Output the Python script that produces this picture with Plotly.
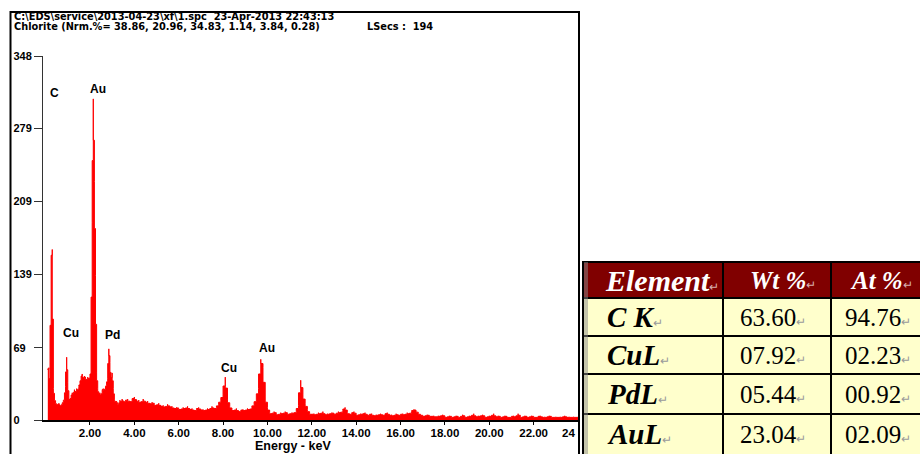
import plotly.graph_objects as go

W, H = 920, 454

# ---------------- data ----------------
# channel grid (keV): fine 0.05 keV steps up to 3.5 keV, then 0.1 keV steps
E_FINE_START, E_FINE_STEP, N_FINE = 0.10, 0.05, 69
E_COARSE_START, E_COARSE_STEP, N_COARSE = 3.60, 0.10, 205

COUNTS_FINE = [
    48, 50, 29, 152, 163, 30, 21, 16, 15, 14,
    16, 13, 14, 15, 18, 20, 32, 60, 36, 20,
    19, 22, 26, 24, 29, 25, 30, 27, 32, 35,
    40, 44, 38, 42, 40, 37, 41, 38, 42, 46,
    189, 307, 228, 138, 45, 30, 24, 26, 22, 28,
    30, 27, 32, 33, 40, 68, 55, 36, 45, 30,
    20, 16, 18, 15, 14, 19, 16, 20, 17,
]
COUNTS_COARSE = [
    18, 20, 16, 19, 22,
    17, 19, 15, 20, 16, 18, 14, 17, 15, 13,
    16, 12, 14, 11, 15, 12, 13, 10, 12, 11,
    9, 12, 10, 13, 9, 11, 8, 10, 12, 9,
    10, 8, 11, 9, 13, 10, 12, 15, 19, 24,
    41, 20, 13, 10, 8, 11, 7, 9, 10, 8,
    11, 9, 12, 15, 20, 30, 58, 50, 22, 12,
    7, 5, 8, 6, 4, 7, 5, 8, 6, 5,
    7, 6, 8, 14, 38, 24, 16, 10, 6, 5,
    6, 4, 7, 5, 8, 4, 6, 5, 7, 6,
    5, 8, 6, 9, 12, 7, 5, 6, 8, 5,
    4, 6, 5, 7, 4, 5, 6, 3, 5, 4,
    6, 4, 5, 7, 4, 5, 3, 6, 4, 5,
    6, 4, 7, 5, 8, 10, 9, 6, 5, 4,
    3, 5, 4, 3, 4, 2, 4, 3, 5, 3,
    2, 4, 3, 2, 4, 3, 2, 5, 3, 2,
    4, 3, 6, 2, 4, 3, 5, 3, 2, 4,
    3, 6, 2, 4, 3, 2, 4, 3, 2, 3,
    4, 2, 6, 3, 2, 4, 3, 2, 4, 3,
    2, 3, 4, 2, 3, 2, 4, 3, 2, 3,
    2, 3, 2, 4, 2, 3, 2, 3, 2, 3,
]

Y_TICKS = [0, 69, 139, 209, 279, 348]
X_TICKS = [2, 4, 6, 8, 10, 12, 14, 16, 18, 20, 22, 24]

PEAK_NAMES = ["C", "Au", "Cu", "Pd", "Cu", "Au"]
PEAK_LABEL_E = [0.42, 2.35, 1.14, 3.01, 8.26, 9.97]
PEAK_LABEL_Y = [313, 316, 83, 81, 50, 69]

HEADER_LINE1 = "C:\\EDS\\service\\2013-04-23\\xf\\1.spc \u00a023-Apr-2013 22:43:13"
HEADER_LINE2 = "Chlorite (Nrm.%= 38.86, 20.96, 34.83, 1.14, 3.84, 0.28)"
HEADER_LSECS = "LSecs : \u00a0194"

TABLE_COLS = ["Element", "Wt %", "At %"]
TABLE_ELEMENTS = ["C K", "CuL", "PdL", "AuL"]
TABLE_WT = ["63.60", "07.92", "05.44", "23.04"]
TABLE_AT = ["94.76", "02.23", "00.92", "02.09"]

# ---------------- build ----------------
energy = ([round(E_FINE_START + E_FINE_STEP * i, 3) for i in range(N_FINE)]
          + [round(E_COARSE_START + E_COARSE_STEP * i, 3) for i in range(N_COARSE)])
counts = COUNTS_FINE + COUNTS_COARSE


def px(x):
    return x / W


def py(y):
    return 1 - y / H


fig = go.Figure()
fig.add_trace(go.Scatter(
    x=energy, y=counts, mode="lines",
    line=dict(color="#ff0000", width=1, shape="vhv"),
    fill="tozeroy", fillcolor="#ff0000", hoverinfo="skip", showlegend=False,
))

AX_FONT = "Liberation Sans, Arial, sans-serif"
ytext = []
for v in Y_TICKS:
    s = str(v)
    ytext.append(s + "\u2007" * (3 - len(s)))
xtext = ["%.2f" % v for v in X_TICKS[:-1]] + ["24\u2007\u2007\u2007"]

fig.update_xaxes(
    domain=[px(43), px(578)], range=[-0.117, 24.0],
    showline=True, linecolor="black", linewidth=2,
    ticks="outside", ticklen=3, tickwidth=1, tickcolor="black",
    ticklabelstandoff=-2,
    tickvals=X_TICKS, ticktext=xtext,
    tickfont=dict(family=AX_FONT, size=11.5, color="black", weight="bold"),
    showgrid=False, zeroline=False, automargin=False, fixedrange=True,
)
fig.update_yaxes(
    domain=[py(420), py(56)], range=[0, 348],
    showline=True, linecolor="#333333", linewidth=1,
    ticks="outside", ticklen=8, tickwidth=1, tickcolor="#333333",
    tickvals=Y_TICKS, ticktext=ytext,
    tickfont=dict(family=AX_FONT, size=11, color="black", weight="bold"),
    showgrid=False, zeroline=False, automargin=False, fixedrange=True,
)

ann = []
for name, e, c in zip(PEAK_NAMES, PEAK_LABEL_E, PEAK_LABEL_Y):
    ann.append(dict(x=e, y=c, xref="x", yref="y", text=name, showarrow=False,
                    xanchor="center", yanchor="middle",
                    font=dict(family=AX_FONT, size=12, color="black", weight="bold")))

hfont = dict(family="DejaVu Sans, sans-serif", size=9.8, color="black", weight="bold")
ann.append(dict(x=px(12), y=py(17), xref="paper", yref="paper", text=HEADER_LINE1,
                showarrow=False, xanchor="left", yanchor="middle", font=hfont))
ann.append(dict(x=px(12), y=py(26), xref="paper", yref="paper", text=HEADER_LINE2,
                showarrow=False, xanchor="left", yanchor="middle", font=hfont))
ann.append(dict(x=px(365), y=py(26), xref="paper", yref="paper", text=HEADER_LSECS,
                showarrow=False, xanchor="left", yanchor="middle", font=hfont))
ann.append(dict(x=px(293), y=py(446), xref="paper", yref="paper", text="Energy - keV",
                showarrow=False, xanchor="center", yanchor="middle",
                font=dict(family=AX_FONT, size=12.5, color="black", weight="bold")))

# ---------------- results table (drawn as cells) ----------------
SERIF = "Liberation Serif, Times New Roman, serif"
COL_EDGES = [583, 723, 831, 945]
ROW_EDGES = [262, 298, 336, 374, 414, 460]
HEAD_FILL, BODY_FILL = "#800000", "#ffffcc"
MARK_BODY = '<span style="font-size:12px;color:#9a9a9a">\u21b5</span>'
MARK_HEAD = '<span style="font-size:12px;color:#d8b0b0">\u21b5</span>'

shapes = []
columns = [[TABLE_COLS[0]] + TABLE_ELEMENTS,
           [TABLE_COLS[1]] + TABLE_WT,
           [TABLE_COLS[2]] + TABLE_AT]
text_inset = [[20, 22, 22, 22, 22], [25, 15, 15, 15, 15], [17, 12, 12, 12, 12]]
for ci, col in enumerate(columns):
    x0, x1 = COL_EDGES[ci], COL_EDGES[ci + 1]
    for ri, txt in enumerate(col):
        y0, y1 = ROW_EDGES[ri], ROW_EDGES[ri + 1]
        head = ri == 0
        shapes.append(dict(type="rect", xref="paper", yref="paper",
                           x0=px(x0), x1=px(x1), y0=py(y1), y1=py(y0),
                           fillcolor=HEAD_FILL if head else BODY_FILL,
                           line=dict(color="black", width=2), layer="below"))
        if head or ci == 0:
            body = "<b><i>%s</i></b>" % txt
            size = 30 if (head and ci == 0) else (25 if head else 29)
        else:
            body = txt
            size = 25
        ann.append(dict(x=px(x0 + text_inset[ci][ri]), y=py((y0 + min(y1, 454)) / 2),
                        xref="paper", yref="paper",
                        text=body + (MARK_HEAD if head else MARK_BODY),
                        showarrow=False, xanchor="left", yanchor="middle",
                        font=dict(family=SERIF, size=size,
                                  color="white" if head else "black")))

shapes += [
    dict(type="line", xref="paper", yref="paper", x0=px(10.5), x1=px(10.5), y0=0, y1=py(11),
         line=dict(color="black", width=2)),
    dict(type="line", xref="paper", yref="paper", x0=px(10), x1=px(580), y0=py(12), y1=py(12),
         line=dict(color="black", width=2)),
    dict(type="line", xref="paper", yref="paper", x0=px(579), x1=px(579), y0=0, y1=py(11),
         line=dict(color="black", width=2)),
    dict(type="line", xref="paper", yref="paper", x0=px(585), x1=px(585), y0=0, y1=py(262),
         line=dict(color="#888888", width=1)),
    dict(type="line", xref="paper", yref="paper", x0=px(587), x1=px(587), y0=0, y1=py(262),
         line=dict(color="#888888", width=1)),
]

fig.update_layout(
    width=W, height=H, margin=dict(l=0, r=0, t=0, b=0),
    paper_bgcolor="white", plot_bgcolor="white",
    annotations=ann, shapes=shapes, showlegend=False,
)

fig.write_html("out.html", config={"displayModeBar": False})
